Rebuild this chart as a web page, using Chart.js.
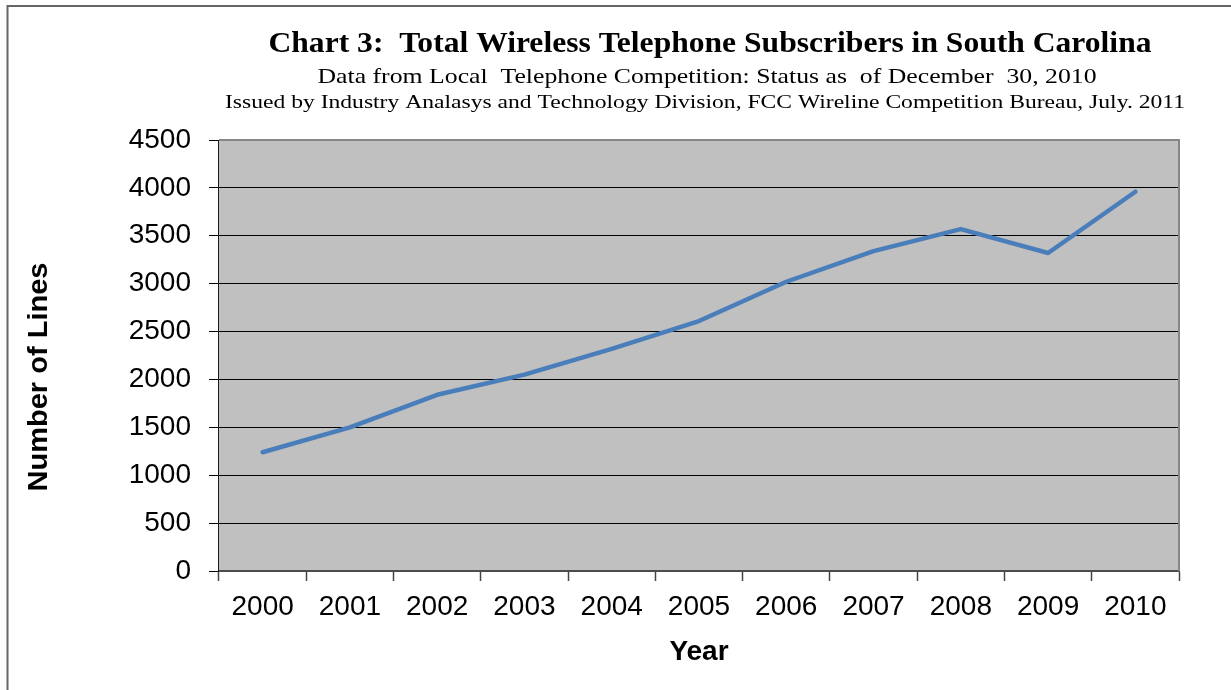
<!DOCTYPE html>
<html>
<head>
<meta charset="utf-8">
<script src="https://cdn.jsdelivr.net/npm/chart.js@4.4.0/dist/chart.umd.min.js"></script>
<style>
  html, body { margin: 0; padding: 0; background: #ffffff; overflow: hidden; }
  #wrap { width: 1231px; height: 690px; position: relative; }
</style>
</head>
<body>
<div id="wrap"><canvas id="chart" width="1231" height="690"></canvas></div>
<script>
// Wireless subscribers in South Carolina (thousands of lines), year-end
const years = ['2000', '2001', '2002', '2003', '2004', '2005', '2006', '2007', '2008', '2009', '2010'];
const subscribers = [1240, 1500, 1840, 2050, 2320, 2610, 3020, 3340, 3570, 3320, 3960];
const yTickValues = [0, 500, 1000, 1500, 2000, 2500, 3000, 3500, 4000, 4500];

const headingLines = [
  'Chart 3:  Total Wireless Telephone Subscribers in South Carolina',
  'Data from Local  Telephone Competition: Status as  of December  30, 2010',
  'Issued by Industry Analasys and Technology Division, FCC Wireline Competition Bureau, July. 2011'
];
const xAxisTitle = 'Year';
const yAxisTitle = 'Number of Lines';

// Typography for the heading lines: centre, baseline and set width
const headingStyles = [
  { font: 'bold 29px "Liberation Serif"', cx: 710, base: 52, width: 883 },
  { font: '21px "Liberation Serif"', cx: 707, base: 83, width: 779 },
  { font: '19px "Liberation Serif"', cx: 705, base: 108, width: 960 }
];
// Rotated value-axis caption
const yTitleStyle = { font: 'bold 28px "Liberation Sans"', cx: 39.5, cy: 377, width: 229 };

function drawStretched(ctx, text, font, x, y, width, rotation) {
  ctx.save();
  ctx.font = font;
  const w = ctx.measureText(text).width;
  ctx.translate(x, y);
  if (rotation) ctx.rotate(rotation);
  ctx.scale(width / w, 1);
  ctx.fillText(text, 0, 0);
  ctx.restore();
}

const framePlugin = {
  id: 'frame',
  beforeDraw(chart) {
    const { ctx, chartArea: a } = chart;
    ctx.save();
    // outer chart frame (its right and bottom edges run off the page)
    ctx.strokeStyle = '#666666';
    ctx.lineWidth = 2;
    ctx.strokeRect(7.5, 6, 1400, 900);
    // plot area fill
    ctx.fillStyle = '#C0C0C0';
    ctx.fillRect(a.left, a.top, a.right - a.left, a.bottom - a.top);
    ctx.restore();
  },
  afterDraw(chart) {
    const { ctx, chartArea: a } = chart;
    ctx.save();
    ctx.strokeStyle = '#868686';
    ctx.lineWidth = 2;
    ctx.beginPath();
    ctx.moveTo(a.left, a.top);
    ctx.lineTo(a.right, a.top);
    ctx.lineTo(a.right, a.bottom);
    ctx.stroke();

    ctx.fillStyle = '#000000';
    ctx.textAlign = 'center';
    ctx.textBaseline = 'alphabetic';
    headingLines.forEach((text, i) => {
      const s = headingStyles[i];
      drawStretched(ctx, text, s.font, s.cx, s.base, s.width, 0);
    });
    ctx.textBaseline = 'middle';
    drawStretched(ctx, yAxisTitle, yTitleStyle.font, yTitleStyle.cx, yTitleStyle.cy, yTitleStyle.width, -Math.PI / 2);
    ctx.restore();
  }
};

new Chart(document.getElementById('chart'), {
  type: 'line',
  data: {
    labels: years,
    datasets: [{
      data: subscribers,
      borderColor: '#4A7EBB',
      borderWidth: 4.5,
      borderCapStyle: 'round',
      borderJoinStyle: 'round',
      pointRadius: 0,
      pointHoverRadius: 0,
      tension: 0,
      fill: false
    }]
  },
  options: {
    responsive: false,
    devicePixelRatio: 1,
    animation: false,
    layout: { padding: { left: 110.7, right: 52, top: 140, bottom: 0 } },
    plugins: {
      legend: { display: false },
      title: { display: false },
      tooltip: { enabled: false }
    },
    scales: {
      x: {
        type: 'category',
        offset: true,
        grid: {
          offset: true,
          drawOnChartArea: false,
          drawTicks: true,
          tickLength: 10,
          tickColor: '#444444',
          tickWidth: 1.5
        },
        border: { display: true, color: '#4d4d4d', width: 2 },
        ticks: {
          color: '#000000',
          padding: 9,
          maxRotation: 0,
          font: { family: '"Liberation Sans", Arial, sans-serif', size: 28 }
        },
        title: {
          display: true,
          text: xAxisTitle,
          color: '#000000',
          padding: { top: 2.6, bottom: 21.2 },
          font: { family: '"Liberation Sans", Arial, sans-serif', size: 28, weight: 'bold' }
        }
      },
      y: {
        min: 0,
        max: 4500,
        afterBuildTicks(scale) {
          scale.ticks = yTickValues.map(v => ({ value: v }));
        },
        grid: {
          color: ctx => (ctx.tick && ctx.tick.value === 4500 ? '#868686' : '#000000'),
          lineWidth: 1,
          drawTicks: true,
          tickLength: 10,
          tickColor: '#000000'
        },
        border: { display: true, color: '#1a1a1a', width: 1 },
        ticks: {
          color: '#000000',
          padding: 18,
          callback: v => String(v),
          font: { family: '"Liberation Sans", Arial, sans-serif', size: 28 }
        },
        title: { display: false }
      }
    }
  },
  plugins: [framePlugin]
});
</script>
</body>
</html>
